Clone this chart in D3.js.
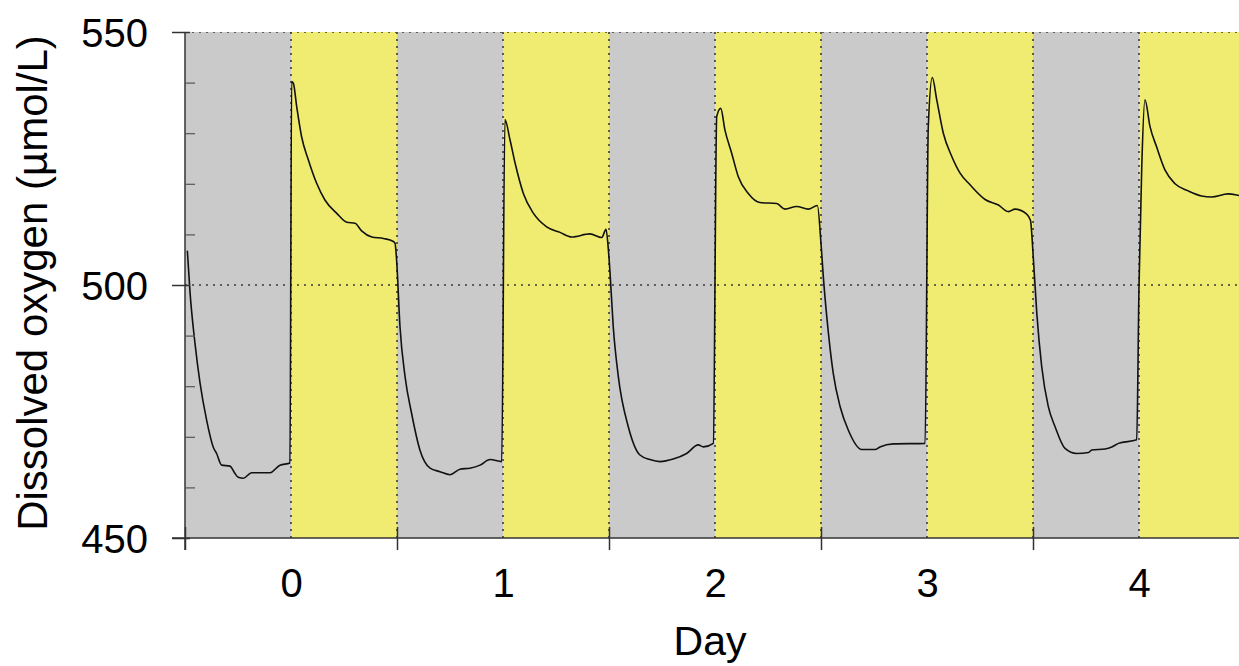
<!DOCTYPE html>
<html>
<head>
<meta charset="utf-8">
<script src="https://cdn.jsdelivr.net/npm/d3@7"></script>
<style>
  html, body { margin: 0; padding: 0; background: #ffffff; }
  svg { display: block; }
  text { font-family: "Liberation Sans", Arial, sans-serif; fill: #000; }
</style>
</head>
<body>
<svg id="chart" width="1239" height="666"></svg>
<script>
// ---- data ----
const days = [
  -0.489, -0.476, -0.453, -0.429, -0.398, -0.367, -0.351, -0.327, -0.288, -0.265, -0.249, -0.225, -0.186, -0.099, -0.052, -0.005,
  0.003, 0.011, 0.027, 0.050, 0.082, 0.121, 0.160, 0.215, 0.263, 0.302, 0.333, 0.381, 0.436, 0.483, 0.491,
  0.498, 0.514, 0.538, 0.569, 0.608, 0.656, 0.703, 0.750, 0.797, 0.844, 0.892, 0.939, 0.994,
  1.009, 1.033, 1.057, 1.096, 1.143, 1.206, 1.269, 1.324, 1.410, 1.466, 1.486,
  1.497, 1.505, 1.520, 1.544, 1.591, 1.646, 1.693, 1.741, 1.803, 1.866, 1.921, 1.945, 1.992,
  2.008, 2.027, 2.047, 2.079, 2.110, 2.157, 2.212, 2.291, 2.330, 2.385, 2.440, 2.483,
  2.500, 2.511, 2.535, 2.558, 2.590, 2.629, 2.692, 2.755, 2.778, 2.841, 2.991,
  3.006, 3.025, 3.046, 3.077, 3.117, 3.156, 3.203, 3.274, 3.337, 3.384, 3.415, 3.470, 3.488,
  3.502, 3.518, 3.541, 3.572, 3.604, 3.651, 3.706, 3.762, 3.777, 3.840, 3.872, 3.903, 3.989,
  4.000, 4.013, 4.028, 4.052, 4.083, 4.123, 4.170, 4.232, 4.295, 4.342, 4.420, 4.483, 4.500
];
const oxygen = [
  506.8, 498.4, 488.5, 480.6, 473.3, 468.0, 466.7, 464.4, 464.2, 462.8, 462.0, 461.8, 462.9, 462.9, 464.4, 464.8,
  540.2, 539.9, 535.2, 529.3, 524.7, 520.1, 516.8, 514.2, 512.4, 512.2, 510.7, 509.5, 509.2, 508.6, 508.2,
  505.0, 491.8, 481.9, 474.6, 467.4, 463.8, 463.1, 462.5, 463.6, 463.8, 464.4, 465.5, 465.1,
  532.7, 528.7, 524.1, 518.1, 514.2, 511.5, 510.4, 509.5, 510.1, 509.4, 511.0,
  507.0, 502.3, 491.8, 481.9, 472.0, 466.4, 465.5, 465.1, 465.6, 466.7, 468.4, 468.0, 468.7,
  533.3, 534.9, 530.6, 526.0, 521.4, 518.1, 516.3, 516.1, 515.0, 515.5, 515.0, 515.7,
  508.2, 501.6, 490.5, 482.5, 476.0, 471.3, 467.5, 467.5, 468.0, 468.6, 468.7,
  531.3, 541.0, 536.6, 530.0, 525.4, 522.1, 519.8, 516.9, 515.8, 514.5, 515.0, 514.0, 512.8,
  505.0, 494.4, 483.9, 476.0, 472.0, 467.7, 466.7, 466.9, 467.4, 467.6, 468.0, 468.7, 469.4,
  499.7, 523.4, 536.6, 531.3, 527.3, 522.7, 520.0, 518.6, 517.6, 517.4, 518.0, 517.6, 517.5
];
const xTickValues = [0, 1, 2, 3, 4];          // labelled days
const xMarkValues = [-0.5, 0.5, 1.5, 2.5, 3.5]; // tick marks between days
const yTickValues = [450, 500, 550];
const yMinorValues = [460, 470, 480, 490, 510, 520, 530, 540];
const periodStarts = [-0.5, 0, 0.5, 1, 1.5, 2, 2.5, 3, 3.5, 4];
const periodTypes = ["dark", "light", "dark", "light", "dark", "light", "dark", "light", "dark", "light"];
const xLabel = "Day";
const yLabel = "Dissolved oxygen (µmol/L)";

// ---- layout ----
const svg = d3.select("#chart");
const mLeft = 185, mTop = 32, mBottom = 538, mRight = 1239;
const x = d3.scaleLinear().domain([-0.5, 4.5]).range([mLeft, 1245]);
const y = d3.scaleLinear().domain([450, 550]).range([mBottom, mTop]);

svg.append("defs").append("clipPath").attr("id", "plotclip")
  .append("rect").attr("x", mLeft).attr("y", mTop).attr("width", mRight - mLeft).attr("height", mBottom - mTop);

const bands = svg.append("g").attr("clip-path", "url(#plotclip)");
bands.selectAll("rect").data(periodStarts).join("rect")
  .attr("x", d => x(d))
  .attr("y", mTop)
  .attr("width", d => x(d + 0.5) - x(d))
  .attr("height", mBottom - mTop)
  .attr("fill", (d, i) => periodTypes[i] === "dark" ? "#cacaca" : "#f0ec72");

// dotted grid
const grid = svg.append("g").attr("clip-path", "url(#plotclip)")
  .attr("stroke", "#3a3a3a").attr("stroke-width", 1.6).attr("stroke-dasharray", "2,5");
grid.selectAll("line.h").data([550, 500]).join("line").attr("class", "h")
  .attr("x1", mLeft).attr("x2", mRight).attr("y1", d => y(d)).attr("y2", d => y(d));
grid.selectAll("line.v").data(periodStarts.slice(1)).join("line").attr("class", "v")
  .attr("x1", d => x(d)).attr("x2", d => x(d)).attr("y1", mTop).attr("y2", mBottom);

// line
const pts = days.map((d, i) => [d, oxygen[i]]);
svg.append("path")
  .datum(pts)
  .attr("clip-path", "url(#plotclip)")
  .attr("fill", "none")
  .attr("stroke", "#111")
  .attr("stroke-width", 1.6)
  .attr("stroke-linejoin", "round")
  .attr("d", d3.line().x(d => x(d[0])).y(d => y(d[1])).curve(d3.curveMonotoneX));

// y axis
const yAxis = svg.append("g").attr("transform", `translate(${mLeft},0)`)
  .call(d3.axisLeft(y).tickValues(yTickValues).tickSize(13).tickPadding(24).tickFormat(d3.format("d")));
yAxis.select(".domain").attr("d", `M0,${mTop}V${mBottom + 12}`).attr("stroke", "#333").attr("stroke-width", 1.5);
yAxis.selectAll(".tick line").attr("x2", -13).attr("x1", 5).attr("stroke", "#333").attr("stroke-width", 1.5);
yAxis.selectAll(".tick text").style("font-size", "40px").style("font-family", "Liberation Sans, Arial, sans-serif").attr("dy", "0.36em");

svg.append("g").attr("transform", `translate(${mLeft},0)`)
  .call(d3.axisRight(y).tickValues(yMinorValues).tickSize(10).tickFormat(""))
  .call(g => g.select(".domain").remove())
  .call(g => g.selectAll(".tick line").attr("stroke", "#555").attr("stroke-width", 1.2));

// x axis
const xAxisG = svg.append("g").attr("transform", `translate(0,${mBottom})`);
xAxisG.append("line").attr("x1", 172).attr("x2", mRight).attr("y1", 0).attr("y2", 0)
  .attr("stroke", "#333").attr("stroke-width", 1.5);
xAxisG.append("g").call(d3.axisBottom(x).tickValues(xMarkValues).tickSize(12).tickFormat(""))
  .call(a => a.select(".domain").remove())
  .call(a => a.selectAll(".tick line").attr("y1", -11).attr("stroke", "#333").attr("stroke-width", 1.5));
xAxisG.append("g").call(d3.axisBottom(x).tickValues(xTickValues).tickSize(0).tickPadding(31).tickFormat(d3.format("d")))
  .call(a => a.select(".domain").remove())
  .call(a => a.selectAll(".tick text").style("font-size", "40px").style("font-family", "Liberation Sans, Arial, sans-serif"));

// axis titles
svg.append("text").attr("x", 710).attr("y", 655)
  .attr("text-anchor", "middle").style("font-size", "41px").text(xLabel);
svg.append("text").attr("transform", `translate(47,283) rotate(-90)`)
  .attr("text-anchor", "middle").style("font-size", "42px").text(yLabel);
</script>
</body>
</html>
